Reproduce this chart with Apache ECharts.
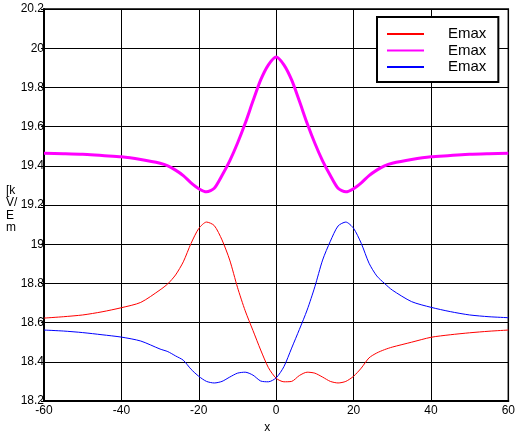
<!DOCTYPE html>
<html>
<head>
<meta charset="utf-8">
<script src="https://cdn.jsdelivr.net/npm/echarts@6/dist/echarts.min.js"></script>
<style>html,body{margin:0;padding:0;background:#fff;}#c{width:518px;height:442px;}</style>
</head>
<body>
<div id="c"></div>
<script>
const xs = [-60,-55,-50,-45,-40,-35,-30,-28,-26,-24,-22,-20,-18,-16,-14,-12,-10,-8,-6,-4,-2,0,2,4,6,8,10,12,14,16,18,20,22,24,26,28,30,35,40,45,50,55,60];
const redVals = [18.623,18.630,18.639,18.655,18.676,18.703,18.767,18.798,18.843,18.910,19.004,19.080,19.113,19.095,19.022,18.919,18.780,18.660,18.560,18.460,18.370,18.316,18.298,18.300,18.330,18.347,18.342,18.322,18.300,18.292,18.300,18.326,18.368,18.420,18.445,18.462,18.475,18.500,18.525,18.538,18.548,18.556,18.562];
const magentaVals = [19.464,19.462,19.459,19.452,19.446,19.432,19.413,19.400,19.378,19.350,19.313,19.283,19.267,19.285,19.350,19.425,19.515,19.617,19.730,19.838,19.915,19.955,19.915,19.838,19.730,19.617,19.515,19.425,19.350,19.285,19.267,19.283,19.313,19.350,19.378,19.400,19.413,19.432,19.446,19.452,19.459,19.462,19.464];
const blueVals = [18.562,18.557,18.549,18.538,18.526,18.506,18.465,18.452,18.430,18.408,18.362,18.326,18.300,18.292,18.300,18.322,18.342,18.347,18.332,18.302,18.298,18.318,18.375,18.470,18.565,18.664,18.783,18.919,19.015,19.093,19.113,19.081,19.004,18.903,18.838,18.800,18.766,18.707,18.678,18.656,18.639,18.630,18.625];
const seriesNames = ['Emax', 'Emax ', 'Emax  '];
const xTitle = 'x';
const yTitle = '[k\nV/\nE\nm';

const pairs = vals => xs.map((x, i) => [x, vals[i]]);
const font = "'Liberation Sans', Arial, sans-serif";
const chart = echarts.init(document.getElementById('c'), null, {renderer: 'canvas'});
chart.setOption({
  animation: false,
  backgroundColor: '#fff',
  grid: {left: 44, right: 8, top: 9, bottom: 41, show: true, borderColor: '#000', borderWidth: 1.5, backgroundColor: 'transparent'},
  graphic: [{
    type: 'text', left: 6, top: 184, z: 10,
    style: {text: yTitle, fontFamily: font, fontSize: 12, lineHeight: 12.5, fill: '#000'}
  }],
  xAxis: {
    type: 'value', min: -60, max: 60, interval: 20,
    name: xTitle, nameLocation: 'middle', nameGap: 18,
    nameTextStyle: {fontFamily: font, fontSize: 12, color: '#000', padding: [0, 18, 0, 0]},
    axisLine: {show: true, onZero: false, lineStyle: {color: '#000', width: 2}},
    axisTick: {show: false},
    axisLabel: {fontFamily: font, fontSize: 12, color: '#000', margin: 4},
    splitLine: {show: true, lineStyle: {color: '#000', width: 1}}
  },
  yAxis: {
    type: 'value', min: 18.2, max: 20.2, interval: 0.2,
    axisLine: {show: true, onZero: false, lineStyle: {color: '#000', width: 2}},
    axisTick: {show: true, length: 3, lineStyle: {color: '#000'}},
    axisLabel: {fontFamily: font, fontSize: 12, color: '#000', margin: 0,
      formatter: v => String(+v.toFixed(1))},
    splitLine: {show: true, lineStyle: {color: '#000', width: 1}}
  },
  legend: {
    left: 377, top: 17, orient: 'vertical',
    backgroundColor: '#fff', borderColor: '#000', borderWidth: 2,
    padding: [9, 12, 7, 10],
    icon: 'rect',
    itemWidth: 37, itemHeight: 2, itemGap: 0.5,
    textStyle: {fontFamily: font, fontSize: 15, color: '#000', lineHeight: 16, padding: [0, 0, 0, 19]},
    formatter: n => n.trim(),
    data: seriesNames
  },
  series: [
    {name: seriesNames[0], type: 'line', data: pairs(redVals), symbol: 'none', smooth: 0.25,
      lineStyle: {color: '#ff0000', width: 1}, itemStyle: {color: '#ff0000'}},
    {name: seriesNames[1], type: 'line', data: pairs(magentaVals), symbol: 'none', smooth: 0.25,
      lineStyle: {color: '#ff00ff', width: 3}, itemStyle: {color: '#ff00ff'}},
    {name: seriesNames[2], type: 'line', data: pairs(blueVals), symbol: 'none', smooth: 0.25,
      lineStyle: {color: '#0000ff', width: 1}, itemStyle: {color: '#0000ff'}}
  ]
});
</script>
</body>
</html>
